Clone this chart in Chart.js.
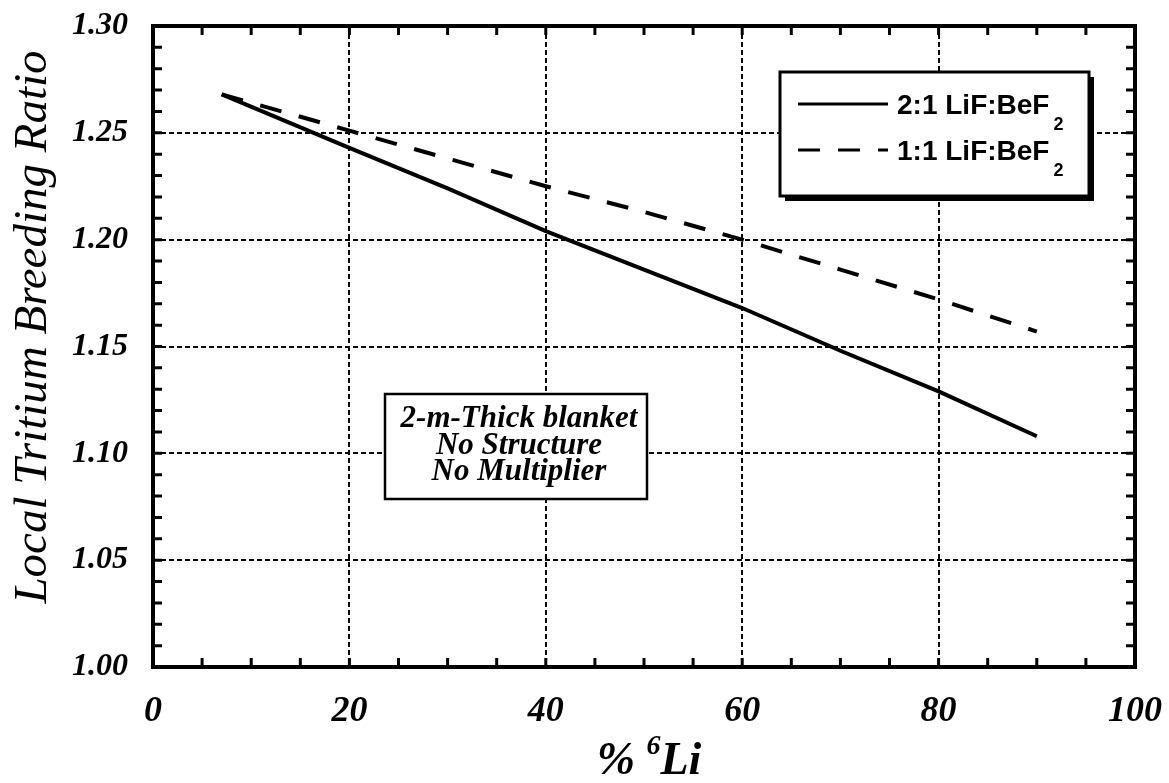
<!DOCTYPE html>
<html>
<head>
<meta charset="utf-8">
<script src="https://cdn.jsdelivr.net/npm/chart.js@4.4.1/dist/chart.umd.min.js"></script>
<style>
  html, body { margin: 0; padding: 0; background: #fff; }
  canvas { display: block; }
</style>
</head>
<body>
<canvas id="tbrChart" width="1169" height="783"></canvas>
<script>
// % 6Li enrichment and local TBR
const li6Percent = [7, 20, 30, 40, 50, 60, 70, 80, 90];
const tbr21 = [1.268, 1.243, 1.224, 1.204, 1.186, 1.168, 1.148, 1.129, 1.108];
const tbr11 = [1.268, 1.251, 1.238, 1.225, 1.213, 1.200, 1.186, 1.172, 1.157];

const seriesNames = ["2:1 LiF:BeF", "1:1 LiF:BeF"];
const seriesSub = "2";
const noteLines = ["2-m-Thick blanket", "No Structure", "No Multiplier"];

const xTicks = [0, 20, 40, 60, 80, 100];
const yTicks = [1.00, 1.05, 1.10, 1.15, 1.20, 1.25, 1.30];
const xMinorStep = 5;
const yMinorStep = 0.01;

const serif = "'Liberation Serif', 'Times New Roman', serif";
const sans = "'Liberation Sans', Arial, sans-serif";

const toPoints = ys => li6Percent.map((x, i) => ({ x: x, y: ys[i] }));

const decorations = {
    id: "decorations",
    beforeDraw(chart) {
        const ctx = chart.ctx;
        ctx.save();
        ctx.fillStyle = "#fff";
        ctx.fillRect(0, 0, chart.width, chart.height);
        ctx.restore();
    },
    afterDraw(chart) {
        const { ctx, chartArea: a, scales: { x, y } } = chart;
        ctx.save();
        ctx.strokeStyle = "#000";
        ctx.fillStyle = "#000";

        // minor ticks, inward on all four sides
        ctx.lineWidth = 3;
        ctx.beginPath();
        for (let v = xTicks[0]; v <= xTicks[xTicks.length - 1] + 1e-9; v += xMinorStep) {
            const px = x.getPixelForValue(v);
            ctx.moveTo(px, a.bottom); ctx.lineTo(px, a.bottom - 9);
            ctx.moveTo(px, a.top); ctx.lineTo(px, a.top + 9);
        }
        for (let k = 0; k <= Math.round((yTicks[yTicks.length - 1] - yTicks[0]) / yMinorStep); k++) {
            const py = y.getPixelForValue(yTicks[0] + k * yMinorStep);
            ctx.moveTo(a.left, py); ctx.lineTo(a.left + 9, py);
            ctx.moveTo(a.right, py); ctx.lineTo(a.right - 9, py);
        }
        ctx.stroke();

        // frame
        ctx.lineWidth = 4;
        ctx.strokeRect(a.left, a.top, a.right - a.left, a.bottom - a.top);

        // y title
        ctx.save();
        ctx.translate(46, 327);
        ctx.rotate(-Math.PI / 2);
        ctx.font = "italic 47px " + serif;
        ctx.textAlign = "center";
        ctx.textBaseline = "alphabetic";
        ctx.fillText("Local Tritium Breeding Ratio", 0, 0);
        ctx.restore();

        // x title: % 6Li
        const big = "italic bold 46px " + serif;
        const sup = "italic bold 28px " + serif;
        ctx.textAlign = "left";
        ctx.textBaseline = "alphabetic";
        ctx.font = big;
        const wPct = ctx.measureText("% ").width;
        const wLi = ctx.measureText("Li").width;
        ctx.font = sup;
        const w6 = ctx.measureText("6").width;
        let tx = 649 - (wPct + w6 + wLi) / 2;
        ctx.font = big;
        ctx.fillText("% ", tx, 774);
        tx += wPct;
        ctx.font = sup;
        ctx.fillText("6", tx, 754);
        tx += w6;
        ctx.font = big;
        ctx.fillText("Li", tx, 774);

        // legend box with drop shadow
        const lg = { l: 780, t: 72, r: 1089, b: 196 };
        ctx.fillRect(lg.l + 5, lg.t + 5, lg.r - lg.l, lg.b - lg.t);
        ctx.fillStyle = "#fff";
        ctx.fillRect(lg.l, lg.t, lg.r - lg.l, lg.b - lg.t);
        ctx.fillStyle = "#000";
        ctx.lineWidth = 3;
        ctx.strokeRect(lg.l, lg.t, lg.r - lg.l, lg.b - lg.t);

        const rows = [104, 150];
        chart.data.datasets.forEach((ds, i) => {
            ctx.save();
            ctx.lineWidth = 3;
            ctx.setLineDash(ds.borderDash || []);
            ctx.beginPath();
            ctx.moveTo(798, rows[i]);
            ctx.lineTo(888, rows[i]);
            ctx.stroke();
            ctx.restore();
            ctx.font = "bold 28px " + sans;
            ctx.fillText(seriesNames[i], 897, rows[i] + 10);
            const w = ctx.measureText(seriesNames[i]).width;
            ctx.font = "bold 18px " + sans;
            ctx.fillText(seriesSub, 897 + w + 4, rows[i] + 26);
        });

        // note box
        const nb = { l: 385, t: 394, r: 647, b: 499 };
        ctx.fillStyle = "#fff";
        ctx.fillRect(nb.l, nb.t, nb.r - nb.l, nb.b - nb.t);
        ctx.fillStyle = "#000";
        ctx.lineWidth = 2.5;
        ctx.strokeRect(nb.l, nb.t, nb.r - nb.l, nb.b - nb.t);
        ctx.font = "italic bold 31px " + serif;
        ctx.textAlign = "center";
        noteLines.forEach((s, i) => ctx.fillText(s, (nb.l + nb.r) / 2 + 3, 427 + i * 26.5));

        ctx.restore();
    }
};

new Chart(document.getElementById("tbrChart"), {
    type: "line",
    data: {
        datasets: [
            { label: seriesNames[0] + seriesSub, data: toPoints(tbr21), borderColor: "#000", borderWidth: 4, pointRadius: 0, tension: 0 },
            { label: seriesNames[1] + seriesSub, data: toPoints(tbr11), borderColor: "#000", borderWidth: 4, pointRadius: 0, tension: 0, borderDash: [22, 18] }
        ]
    },
    options: {
        responsive: false,
        animation: false,
        layout: { padding: { left: 0, right: 34, top: 26, bottom: 0 } },
        plugins: { legend: { display: false }, tooltip: { enabled: false } },
        scales: {
            x: {
                type: "linear",
                min: xTicks[0],
                max: xTicks[xTicks.length - 1],
                afterFit: s => { s.height = 116; s.paddingLeft = 0; s.paddingRight = 0; },
                afterBuildTicks: s => { s.ticks = xTicks.map(v => ({ value: v })); },
                ticks: {
                    color: "#000", padding: 23, maxRotation: 0, autoSkip: false,
                    font: { family: serif, size: 36, style: "italic", weight: "bold" }
                },
                grid: { color: "#000", lineWidth: 2, drawTicks: false },
                border: { display: false, dash: [5, 3] }
            },
            y: {
                type: "linear",
                min: yTicks[0],
                max: yTicks[yTicks.length - 1],
                afterFit: s => { s.width = 153; s.paddingTop = 0; s.paddingBottom = 0; },
                afterBuildTicks: s => { s.ticks = yTicks.map(v => ({ value: v })); },
                ticks: {
                    color: "#000", padding: 25, autoSkip: false,
                    callback: v => v.toFixed(2),
                    font: { family: serif, size: 32, style: "italic", weight: "bold" }
                },
                grid: { color: "#000", lineWidth: 2, drawTicks: false },
                border: { display: false, dash: [5, 3] }
            }
        }
    },
    plugins: [decorations]
});
</script>
</body>
</html>
